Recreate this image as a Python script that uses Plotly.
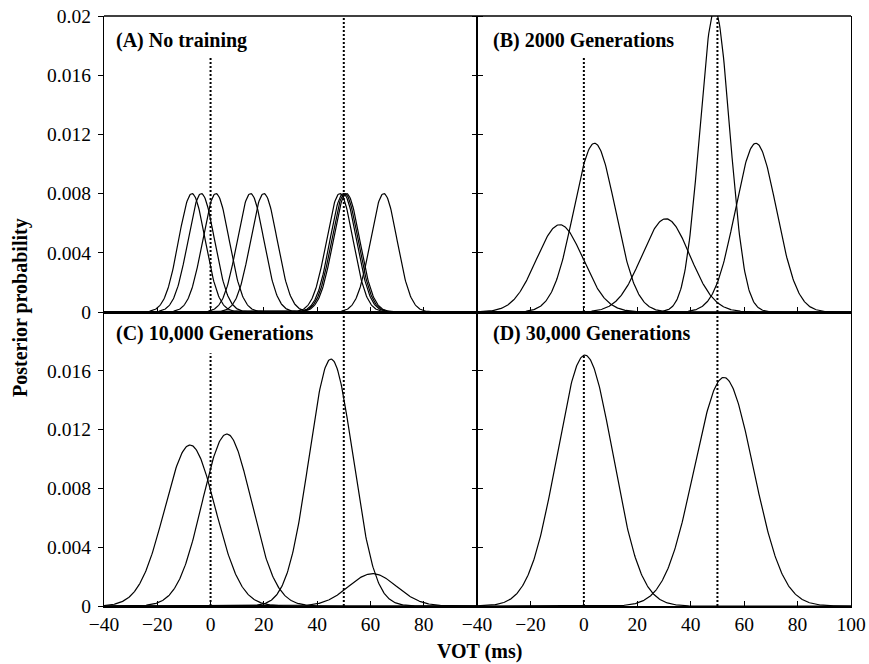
import numpy as np
import plotly.graph_objects as go
from plotly.subplots import make_subplots

# ---- data (component means, peak heights, widths) ----
panel_titles = ["(A) No training", "(B) 2000 Generations",
                "(C) 10,000 Generations", "(D) 30,000 Generations"]

A_means = [-7, -3.5, 2, 15, 20, 48.5, 49.8, 50.4, 51, 65]
A_peaks = [0.008, 0.008, 0.008, 0.008, 0.008, 0.008, 0.008, 0.008, 0.008, 0.008]
A_sds = [5, 5, 5, 5, 5, 5, 5, 5, 5, 5]

B_means = [-9, 4, 30.7, 49, 64.4]
B_peaks = [0.0059, 0.0114, 0.0063, 0.0204, 0.0114]
B_sds = [8.7, 7.8, 9, 5.6, 7.7]

C_means = [-7.7, 6.1, 45.2, 60.8]
C_peaks = [0.01095, 0.0117, 0.0168, 0.0022]
C_sds = [9.5, 9.2, 8.2, 9]

D_means = [0.4, 52.4]
D_peaks = [0.01707, 0.01555]
D_sds = [10.4, 11]

ref_x = [0, 50]                      # dotted reference lines
ref_tops = {"A": [0.0172, 0.02], "B": [0.0172, 0.02],
            "C": [0.0172, 0.02], "D": [0.0171, 0.02]}

x_ticks = [-40, -20, 0, 20, 40, 60, 80, 100]
y_ticks_top = [0, 0.004, 0.008, 0.012, 0.016, 0.02]
y_ticktext_top = ["0", "0.004", "0.008", "0.012", "0.016", "0.02"]
y_ticks_bot = [0, 0.004, 0.008, 0.012, 0.016]
y_ticktext_bot = ["0", "0.004", "0.008", "0.012", "0.016"]

panels = {"A": (A_means, A_peaks, A_sds, 1, 1),
          "B": (B_means, B_peaks, B_sds, 1, 2),
          "C": (C_means, C_peaks, C_sds, 2, 1),
          "D": (D_means, D_peaks, D_sds, 2, 2)}

FONT = "Liberation Serif, Times New Roman, serif"

fig = make_subplots(rows=2, cols=2, horizontal_spacing=0, vertical_spacing=0)

xs = np.linspace(-40, 100, 561)
for key, (means, peaks, sds, r, c) in panels.items():
    for m, p, s in zip(means, peaks, sds):
        ys = p * np.exp(-0.5 * ((xs - m) / s) ** 2)
        fig.add_trace(go.Scatter(x=xs, y=ys, mode="lines",
                                 line=dict(color="black", width=1.2),
                                 hoverinfo="skip", showlegend=False), row=r, col=c)
    for xv, top in zip(ref_x, ref_tops[key]):
        fig.add_trace(go.Scatter(x=[xv, xv], y=[0, top], mode="lines",
                                 line=dict(color="black", width=2, dash="2px,2px"),
                                 hoverinfo="skip", showlegend=False), row=r, col=c)

L, R, T, B = 104, 18, 16, 58
W, H = 869, 664
pw, ph = W - L - R, H - T - B
xsplit = 373 / pw
ysplit = 294 / ph

dom = {(1, 1): ([0, xsplit], [ysplit, 1]), (1, 2): ([xsplit, 1], [ysplit, 1]),
       (2, 1): ([0, xsplit], [0, ysplit]), (2, 2): ([xsplit, 1], [0, ysplit])}

for (r, c), (xd, yd) in dom.items():
    fig.update_xaxes(row=r, col=c, domain=xd, range=[-40, 100], automargin=False,
                     showline=True, linecolor="black", linewidth=2, mirror=False,
                     ticks="inside", ticklen=5, tickwidth=1, tickcolor="black",
                     tickvals=x_ticks if c == 2 else x_ticks[:-1],
                     showticklabels=(r == 2), showgrid=False, zeroline=False,
                     tickfont=dict(family=FONT, size=19.5, color="black"))
    yt = y_ticks_top if r == 1 else y_ticks_bot
    ytt = y_ticktext_top if r == 1 else y_ticktext_bot
    fig.update_yaxes(row=r, col=c, domain=yd, range=[0, 0.02], automargin=False,
                     showline=True, linecolor="black", linewidth=1.3,
                     mirror="ticks" if c == 1 else True,
                     ticks="outside", ticklen=5 if c == 1 else 4, tickwidth=1,
                     tickcolor="black", tickvals=yt, ticktext=ytt,
                     showticklabels=(c == 1), showgrid=False, zeroline=False,
                     ticklabelstandoff=3,
                     tickfont=dict(family=FONT, size=19.5, color="black"))

# top border of the figure box
fig.add_shape(type="line", xref="paper", yref="paper", x0=0, x1=1, y0=1, y1=1,
              line=dict(color="black", width=1.3))

lab_pos = [((114 - L) / pw, (H - B - 40) / ph), ((491 - L) / pw, (H - B - 40) / ph),
           ((114 - L) / pw, (H - B - 333) / ph), ((491 - L) / pw, (H - B - 333) / ph)]
for txt, (ax, ay) in zip(panel_titles, lab_pos):
    fig.add_annotation(text="<b>%s</b>" % txt, xref="paper", yref="paper",
                       x=ax, y=ay, xanchor="left", yanchor="middle", showarrow=False,
                       font=dict(family=FONT, size=20, color="black"))

fig.add_annotation(text="<b>Posterior probability</b>", xref="paper", yref="paper",
                   x=(20 - L) / pw, y=(H - B - 308) / ph, textangle=-90,
                   xanchor="center", yanchor="middle", showarrow=False,
                   font=dict(family=FONT, size=20, color="black"))
fig.add_annotation(text="<b>VOT (ms)</b>", xref="paper", yref="paper",
                   x=(479.5 - L) / pw, y=(H - B - 651) / ph,
                   xanchor="center", yanchor="middle", showarrow=False,
                   font=dict(family=FONT, size=20, color="black"))

fig.update_layout(width=W, height=H, margin=dict(l=L, r=R, t=T, b=B),
                  paper_bgcolor="white", plot_bgcolor="white",
                  font=dict(family=FONT, color="black"))

fig.write_html("out.html", config={"displayModeBar": False},
               post_script="document.body.style.margin='0px';"
                           "document.body.style.overflow='hidden';")
